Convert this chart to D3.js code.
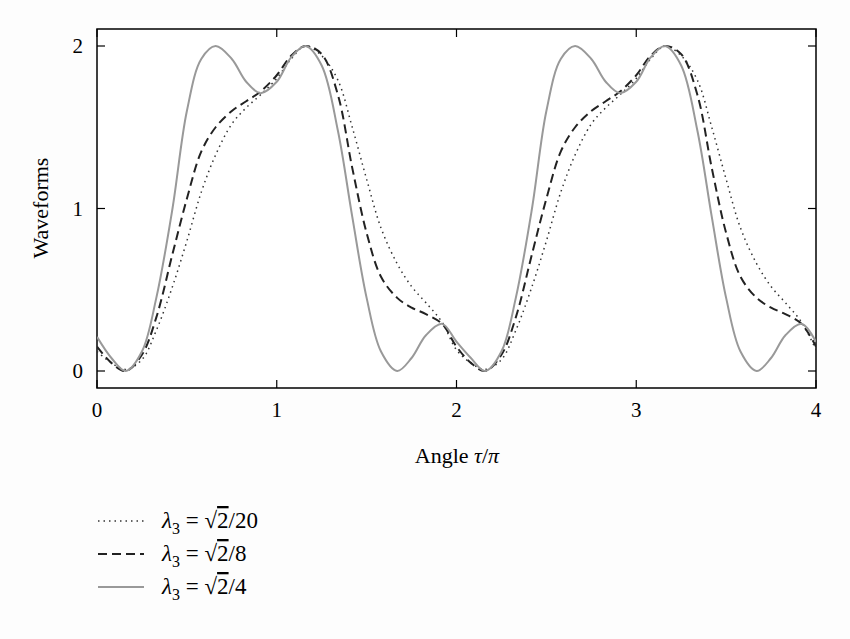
<!DOCTYPE html>
<html><head><meta charset="utf-8">
<script src="https://cdn.jsdelivr.net/npm/d3@7"></script>
<style>body{margin:0;background:#fdfdfd}svg{font-family:"Liberation Serif","DejaVu Serif",serif}</style>
</head><body><svg width="850" height="639"></svg>
<script>
// one period, second period read the same
const xs1 = [0,0.08,0.16,0.25,0.33,0.42,0.5,0.58,0.66,0.75,0.83,0.91,1.0,1.08,1.16,1.25,1.34,1.42,1.5,1.58,1.67,1.75,1.83,1.92,2.0];
const dotted1 = [0.12,0.05,0.01,0.07,0.25,0.52,0.8,1.1,1.33,1.52,1.62,1.7,1.8,1.92,2.0,1.94,1.79,1.5,1.18,0.88,0.66,0.52,0.42,0.3,0.13];
const dashed1 = [0.15,0.05,0.0,0.1,0.33,0.72,1.06,1.35,1.5,1.6,1.66,1.72,1.82,1.94,2.0,1.95,1.7,1.25,0.85,0.58,0.45,0.39,0.35,0.29,0.15];
const solid1  = [0.21,0.08,0.0,0.12,0.45,1.0,1.6,1.92,2.0,1.92,1.78,1.71,1.78,1.93,2.0,1.88,1.48,0.95,0.45,0.12,0.0,0.08,0.22,0.29,0.18];
const xs = xs1.concat(xs1.slice(1).map(v => v + 2));
const dotted = dotted1.concat(dotted1.slice(1));
const dashed = dashed1.concat(dashed1.slice(1));
const solid = solid1.concat(solid1.slice(1));
const xTicks = [0,1,2,3,4];
const yTicks = [0,1,2];
const labels = ["/20","/8","/4"];

const svg = d3.select("svg");
const x = d3.scaleLinear().domain([0,4]).range([97,816]);
const y = d3.scaleLinear().domain([0,2]).range([371,46]);
const yTop = 29, yBot = 388;

svg.append("rect").attr("x",97).attr("y",yTop).attr("width",719).attr("height",yBot-yTop)
  .attr("fill","#fff").attr("stroke","#000").attr("stroke-width",1.5);

const g = svg.append("g").attr("stroke","#000").attr("stroke-width",1.2);
xTicks.forEach(t => {
  g.append("line").attr("x1",x(t)).attr("x2",x(t)).attr("y1",yBot).attr("y2",yBot-8);
  g.append("line").attr("x1",x(t)).attr("x2",x(t)).attr("y1",yTop).attr("y2",yTop+8);
  svg.append("text").attr("x",x(t)).attr("y",yBot+29).attr("text-anchor","middle").attr("font-size",21).text(t);
});
yTicks.forEach(t => {
  g.append("line").attr("x1",97).attr("x2",105).attr("y1",y(t)).attr("y2",y(t));
  g.append("line").attr("x1",816).attr("x2",808).attr("y1",y(t)).attr("y2",y(t));
  svg.append("text").attr("x",83).attr("y",y(t)+7).attr("text-anchor","end").attr("font-size",21).text(t);
});

svg.append("text").attr("x",457).attr("y",463).attr("text-anchor","middle").attr("font-size",22)
  .html('Angle <tspan font-style="italic">τ</tspan>/<tspan font-style="italic">π</tspan>');
svg.append("text").attr("transform","translate(48,208) rotate(-90)").attr("text-anchor","middle").attr("font-size",22).text("Waveforms");

const line = d3.line().x((d,i) => x(xs[i])).y(d => y(d)).curve(d3.curveCatmullRom);
const styles = [
  {data: dotted, stroke:"#333", width:1.5, dash:"1.5,4"},
  {data: dashed, stroke:"#222", width:2, dash:"9,5"},
  {data: solid, stroke:"#999", width:2, dash:null}
];
svg.append("clipPath").attr("id","c").append("rect").attr("x",97).attr("y",yTop).attr("width",719).attr("height",yBot-yTop);
styles.forEach(s => {
  svg.append("path").attr("d",line(s.data)).attr("fill","none").attr("stroke",s.stroke)
    .attr("stroke-width",s.width).attr("stroke-dasharray",s.dash).attr("clip-path","url(#c)");
});

styles.forEach((s,i) => {
  const yy = 521 + i*33;
  svg.append("line").attr("x1",98).attr("x2",144).attr("y1",yy).attr("y2",yy)
    .attr("stroke",s.stroke).attr("stroke-width",s.width).attr("stroke-dasharray",s.dash);
  const t = svg.append("text").attr("x",162).attr("y",yy+7).attr("font-size",23);
  t.append("tspan").attr("font-style","italic").text("λ");
  t.append("tspan").attr("font-size",16).attr("dy",6).text("3");
  t.append("tspan").attr("dy",-6).text(" = √");
  t.append("tspan").attr("text-decoration","overline").text("2");
  t.append("tspan").text(labels[i]);
});
</script></body></html>
